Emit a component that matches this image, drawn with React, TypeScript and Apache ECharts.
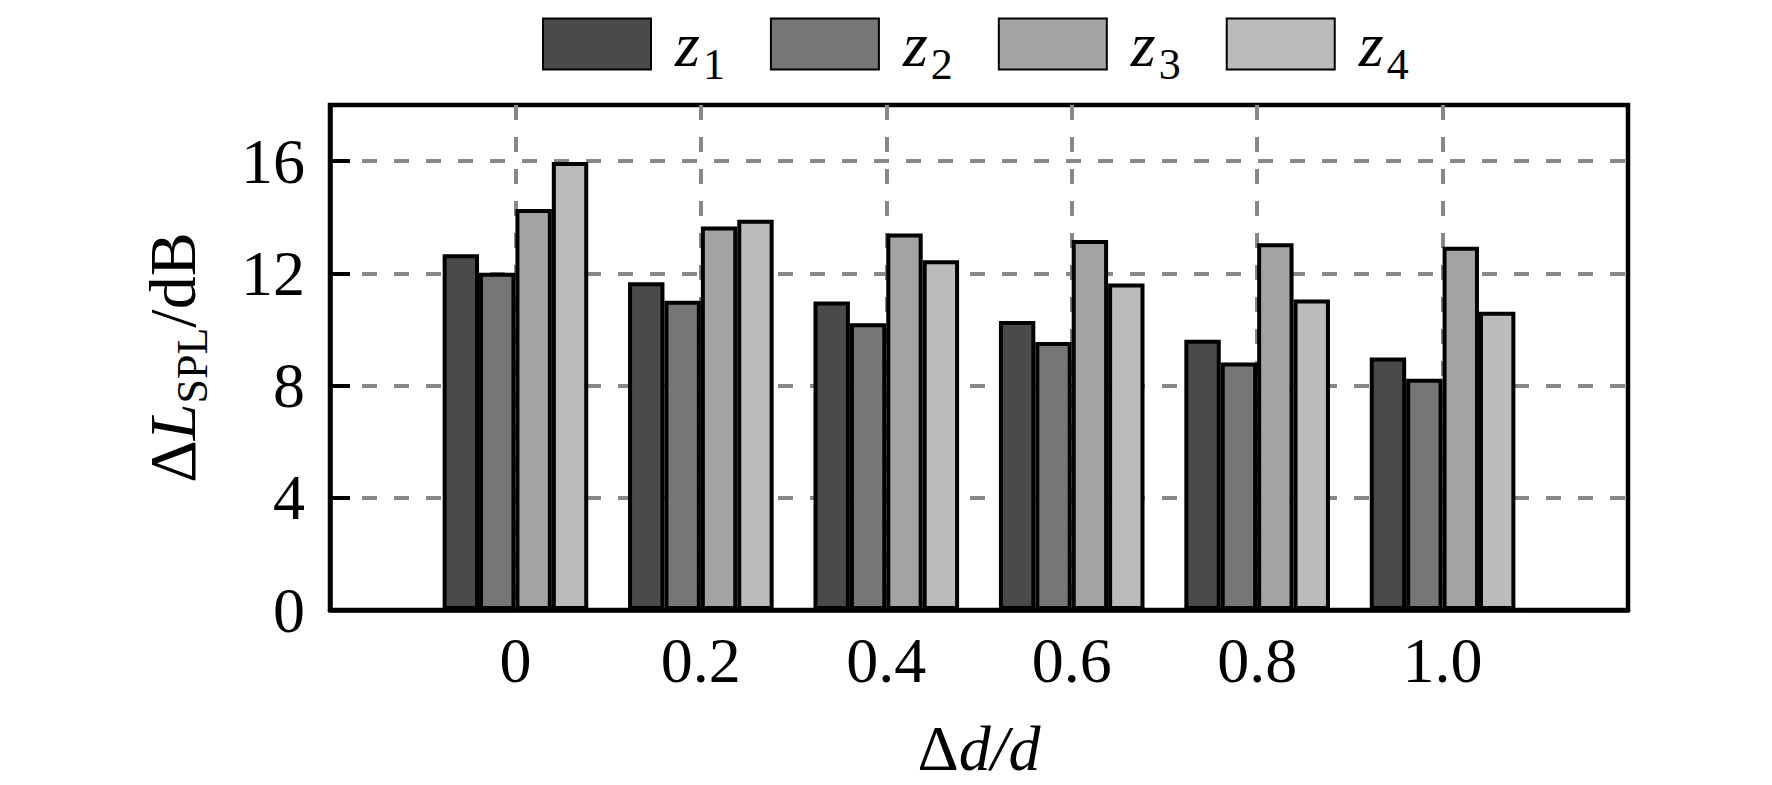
import { useEffect, useRef } from 'react';
import * as echarts from 'echarts';

// Δd/d positions
const ratios = [0, 0.2, 0.4, 0.6, 0.8, 1.0];
const seriesNames = ['z1', 'z2', 'z3', 'z4'];
const z1Values = [12.68, 11.68, 11.0, 10.3, 9.63, 9.0];
const z2Values = [12.02, 11.02, 10.22, 9.55, 8.82, 8.24];
const z3Values = [14.29, 13.67, 13.42, 13.19, 13.07, 12.95];
const z4Values = [15.97, 13.91, 12.47, 11.64, 11.07, 10.63];
const barColors = ['#4a4a4a', '#767676', '#a3a3a3', '#bbbbbb'];
const yTicks = { min: 0, max: 18, interval: 4 };

const FONT = 'Liberation Serif, serif';

export default function App() {
  const chartRef = useRef<HTMLDivElement>(null);

  useEffect(() => {
    if (!chartRef.current) return;
    document.body.style.margin = '0';
    const chart = echarts.init(chartRef.current, undefined, { renderer: 'svg' });

    const allValues = [z1Values, z2Values, z3Values, z4Values];
    const gridLine = { color: '#888888', width: 4, type: [15, 17] as number[] };

    const option = {
      animation: false,
      backgroundColor: '#ffffff',
      textStyle: { fontFamily: FONT },
      legend: {
        data: seriesNames,
        top: -3,
        left: 537,
        icon: 'rect',
        itemWidth: 108,
        itemHeight: 51,
        itemGap: 45,
        formatter: (name: string) => `{i|z}{s|${name.slice(1)}}`,
        textStyle: {
          fontFamily: FONT,
          color: '#000',
          rich: {
            i: { fontSize: 64, fontStyle: 'italic', fontFamily: FONT, lineHeight: 64, verticalAlign: 'middle', padding: [0, 3, 0, 19] },
            s: { fontSize: 44, fontFamily: FONT, color: '#000', lineHeight: 24, verticalAlign: 'middle', padding: [40, 0, 0, 0] },
          },
        },
      },
      grid: { left: 330, right: 144, top: 105, bottom: 173, show: true, borderColor: '#000', borderWidth: 4.5 },
      xAxis: {
        type: 'value',
        min: -0.2,
        max: 1.2,
        interval: 0.2,
        name: '{n|Δ}{i|d/d}',
        nameLocation: 'middle',
        nameGap: 106,
        nameTextStyle: {
          color: '#000',
          rich: {
            n: { fontSize: 64, fontFamily: FONT, lineHeight: 64 },
            i: { fontSize: 64, fontFamily: FONT, fontStyle: 'italic', lineHeight: 64 },
          },
        },
        axisLine: { lineStyle: { color: '#000', width: 4.5 } },
        axisTick: { show: false },
        axisLabel: {
          color: '#000',
          fontSize: 64,
          fontFamily: FONT,
          margin: 18,
          formatter: (v: number) => {
            if (v < -0.01 || v > 1.01) return '';
            return Math.abs(v) < 1e-9 ? '0' : v.toFixed(1);
          },
        },
        splitLine: { show: true, showMinLine: false, showMaxLine: false, lineStyle: gridLine },
      },
      yAxis: {
        type: 'value',
        min: yTicks.min,
        max: yTicks.max,
        interval: yTicks.interval,
        name: '{n|Δ}{i|L}{s|SPL}{n|/dB}',
        nameLocation: 'middle',
        nameRotate: 90,
        nameGap: 125,
        nameTextStyle: {
          color: '#000',
          rich: {
            n: { fontSize: 66, fontFamily: FONT, lineHeight: 66, verticalAlign: 'middle' },
            i: { fontSize: 66, fontFamily: FONT, fontStyle: 'italic', lineHeight: 66, verticalAlign: 'middle' },
            s: { fontSize: 44, fontFamily: FONT, lineHeight: 24, verticalAlign: 'middle', padding: [40, 0, 0, 0] },
          },
        },
        axisLine: { show: true, onZero: false, lineStyle: { color: '#000', width: 4.5 } },
        axisTick: { show: true, inside: true, length: 20, lineStyle: { color: '#000', width: 4 } },
        axisLabel: {
          color: '#000',
          fontSize: 64,
          fontFamily: FONT,
          margin: 25,
          formatter: (v: number) => (v > 16.5 ? '' : String(v)),
        },
        splitLine: { show: true, showMinLine: false, showMaxLine: false, lineStyle: gridLine },
      },
      series: seriesNames.map((name, si) => ({
        name,
        type: 'bar',
        barWidth: 36.4,
        barGap: '0%',
        data: ratios.map((x, i) => [x, allValues[si][i]]),
        itemStyle: { color: barColors[si], borderColor: '#000', borderWidth: 4 },
      })),
    };

    chart.setOption(option);

    return () => {
      chart.dispose();
    };
  }, []);

  return <div ref={chartRef} style={{ width: 1772, height: 785 }} />;
}
